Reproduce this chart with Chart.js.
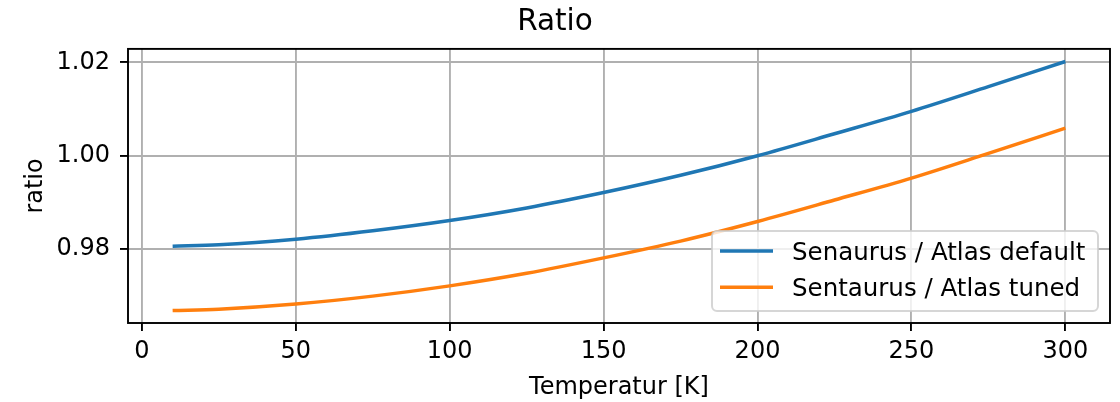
<!DOCTYPE html>
<html>
<head>
<meta charset="utf-8">
<title>Ratio</title>
<script src="https://cdn.jsdelivr.net/npm/chart.js@4/dist/chart.umd.min.js"></script>
<style>
  html, body { margin: 0; padding: 0; background: #fff; }
  #chart { display: block; }
</style>
</head>
<body>
<canvas id="chart" width="1120" height="402"></canvas>
<script>
// Data
const temperatures = [10, 25, 50, 75, 100, 125, 150, 175, 200, 225, 250, 275, 300];
const ratioDefault = [0.9806, 0.9809, 0.9821, 0.9839, 0.9861, 0.9888, 0.9921, 0.9958, 1.0000, 1.0047, 1.0095, 1.0148, 1.0202];
const ratioTuned = [0.9668, 0.9671, 0.9682, 0.9699, 0.9721, 0.9748, 0.9781, 0.9817, 0.9859, 0.9905, 0.9952, 1.0005, 1.0059];
const seriesLabels = ['Senaurus / Atlas default', 'Sentaurus / Atlas tuned'];
const xTicks = [0, 50, 100, 150, 200, 250, 300];
const yTicks = [0.98, 1.00, 1.02];
const yTickLabels = ['0.98', '1.00', '1.02'];

const FONT = 'DejaVu Sans';
const BLUE = '#1f77b4';
const ORANGE = '#ff7f0e';

function toPoints(values) {
    return temperatures.map((t, i) => ({ x: t, y: values[i] }));
}

// Frame round the plot area (matplotlib spines)
const framePlugin = {
    id: 'frame',
    afterDatasetsDraw(chart) {
        const { ctx, chartArea: a } = chart;
        ctx.save();
        ctx.strokeStyle = '#000';
        ctx.lineWidth = 1.9;
        ctx.strokeRect(a.left, a.top, a.right - a.left, a.bottom - a.top);
        ctx.restore();
    }
};

// Legend box in the lower right of the plot area
const boxLegendPlugin = {
    id: 'boxLegend',
    afterDraw(chart) {
        const { ctx, chartArea: a } = chart;
        const w = 386, h = 80, r = 5;
        const x = a.right - 12 - w;
        const y = a.bottom - 12 - h;
        ctx.save();
        ctx.beginPath();
        ctx.roundRect(x, y, w, h, r);
        ctx.fillStyle = 'rgba(255,255,255,0.8)';
        ctx.fill();
        ctx.strokeStyle = 'rgba(204,204,204,0.8)';
        ctx.lineWidth = 2;
        ctx.stroke();

        ctx.font = '24.5px "' + FONT + '"';
        ctx.textAlign = 'left';
        ctx.textBaseline = 'alphabetic';
        chart.data.datasets.forEach((ds, i) => {
            const ly = y + 20 + i * 36.3;
            ctx.beginPath();
            ctx.moveTo(x + 8, ly);
            ctx.lineTo(x + 61, ly);
            ctx.strokeStyle = ds.borderColor;
            ctx.lineWidth = 3.5;
            ctx.stroke();
            ctx.fillStyle = '#000';
            ctx.fillText(ds.label, x + 80, ly + 9);
        });
        ctx.restore();
    }
};

const ctx = document.getElementById('chart');
new Chart(ctx, {
    type: 'line',
    data: {
        datasets: [
            {
                label: seriesLabels[0],
                data: toPoints(ratioDefault),
                borderColor: BLUE,
                borderWidth: 3.5,
                pointRadius: 0,
                fill: false,
                cubicInterpolationMode: 'monotone'
            },
            {
                label: seriesLabels[1],
                data: toPoints(ratioTuned),
                borderColor: ORANGE,
                borderWidth: 3.5,
                pointRadius: 0,
                fill: false,
                cubicInterpolationMode: 'monotone'
            }
        ]
    },
    options: {
        responsive: false,
        animation: false,
        devicePixelRatio: 1,
        layout: { padding: { left: 0, right: 10, top: 0, bottom: 0 } },
        plugins: {
            legend: { display: false },
            tooltip: { enabled: false },
            title: {
                display: true,
                text: 'Ratio',
                color: '#000',
                font: { family: FONT, size: 29.5, weight: 'normal', lineHeight: 1.2 },
                padding: { top: 5, bottom: 8.5 }
            }
        },
        scales: {
            x: {
                type: 'linear',
                min: -4.5,
                max: 314.5,
                afterBuildTicks: scale => { scale.ticks = xTicks.map(v => ({ value: v })); },
                afterFit: scale => { scale.height = 79; },
                grid: {
                    color: '#b0b0b0',
                    lineWidth: 1.9,
                    tickColor: '#000',
                    tickWidth: 1.9,
                    tickLength: 8
                },
                border: { display: false },
                ticks: {
                    color: '#000',
                    padding: 6,
                    maxRotation: 0,
                    font: { family: FONT, size: 24 },
                    callback: value => String(value)
                },
                title: {
                    display: true,
                    text: 'Temperatur [K]',
                    color: '#000',
                    font: { family: FONT, size: 24, lineHeight: 1.2 },
                    padding: { top: 0, bottom: 0 }
                }
            },
            y: {
                type: 'linear',
                min: 0.96414,
                max: 1.0229,
                afterBuildTicks: scale => { scale.ticks = yTicks.map(v => ({ value: v })); },
                afterFit: scale => { scale.width = 128; },
                grid: {
                    color: '#b0b0b0',
                    lineWidth: 1.9,
                    tickColor: '#000',
                    tickWidth: 1.9,
                    tickLength: 8
                },
                border: { display: false },
                ticks: {
                    color: '#000',
                    padding: 10,
                    font: { family: FONT, size: 24 },
                    callback: (value, index) => yTickLabels[index]
                },
                title: {
                    display: true,
                    text: 'ratio',
                    color: '#000',
                    font: { family: FONT, size: 24, lineHeight: 1.2 },
                    padding: { top: 21, bottom: 0 }
                }
            }
        }
    },
    plugins: [framePlugin, boxLegendPlugin]
});
</script>
</body>
</html>
